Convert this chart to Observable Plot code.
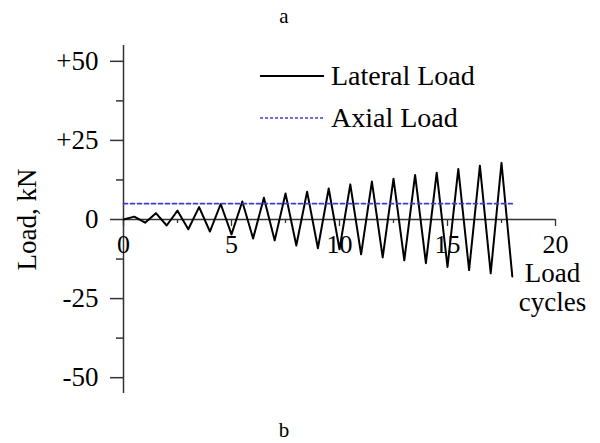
<!DOCTYPE html>
<html>
<head>
<meta charset="utf-8">
<script src="https://cdn.jsdelivr.net/npm/d3@7"></script>
<script src="https://cdn.jsdelivr.net/npm/@observablehq/plot@0.6"></script>
<style>
  html, body { margin: 0; padding: 0; background: #fff; }
  #wrap { position: relative; width: 600px; height: 443px; font-family: "Liberation Serif", "DejaVu Serif", serif; color: #000; }
  #wrap svg { position: absolute; left: 0; top: 0; }
  #wrap svg text { font-family: "Liberation Serif", "DejaVu Serif", serif; }
  .lbl { position: absolute; white-space: nowrap; line-height: 1; }
  .leg { position: absolute; left: 260px; display: flex; align-items: center; gap: 7px; font-size: 28px; }
</style>
</head>
<body>
<div id="wrap"></div>
<script>
// ---- data ----
const lateralX = [0, 0.5, 1, 1.5, 2, 2.5, 3, 3.5, 4, 4.5, 5, 5.5, 6, 6.5, 7, 7.5, 8, 8.5, 9, 9.5,
  10, 10.5, 11, 11.5, 12, 12.5, 13, 13.5, 14, 14.5, 15, 15.5, 16, 16.5, 17, 17.5, 18];
const lateralY = [0, 0.9, -1, 2, -1.9, 2.8, -3.1, 3.9, -3.8, 4.9, -4.7, 5.7, -6, 6.9, -6.6, 8.2, -8.2, 8.8, -9.1, 9.8,
  -9.4, 11.1, -11, 12, -12, 12.9, -12.9, 14.1, -13.8, 14.8, -15, 16, -16, 17, -17, 17.9, -18];
const axialX = [0, 18];
const axialY = [5, 5];
const xTicks = [0, 5, 10, 15, 20];
const xMinorTicks = [2.5, 7.5, 12.5, 17.5];
const yTicks = [50, 25, 0, -25, -50];
const yTickLabels = ["+50", "+25", "0", "-25", "-50"];
const yMinorTicks = [37.5, 12.5, -12.5, -37.5];
const seriesNames = ["Lateral Load", "Axial Load"];
const xLabel = "Load\ncycles";
const yLabel = "Load, kN";

const lateral = lateralX.map((x, i) => ({x, y: lateralY[i]}));
const axial = axialX.map((x, i) => ({x, y: axialY[i]}));

// ---- layout ----
const W = 600, H = 443, mT = 45, mB = 50, mL = 123, mR = 45;
const yDom = [-55, 55];
const zeroPx = mT + (yDom[1] - 0) / (yDom[1] - yDom[0]) * (H - mT - mB);
const axisShift = zeroPx - (H - mB);
const blue = "#3c3cd2";
const axisColor = "#333";
const font = "Liberation Serif";

const plot = Plot.plot({
  width: W, height: H,
  marginTop: mT, marginBottom: mB, marginLeft: mL, marginRight: mR,
  style: {fontFamily: font, background: "white", color: "black"},
  x: {domain: [0, 20]},
  y: {domain: yDom},
  marks: [
    Plot.ruleX([0], {stroke: axisColor, strokeWidth: 1.5}),
    Plot.ruleY([0], {x1: 0, x2: 20, stroke: axisColor, strokeWidth: 1.5}),
    Plot.axisY(yTicks, {anchor: "left", tickSize: 13, tickPadding: 12, fontSize: 27,
      tickFormat: d => yTickLabels[yTicks.indexOf(d)], label: null, stroke: axisColor, strokeWidth: 1.5}),
    Plot.axisY(yMinorTicks, {anchor: "left", tickSize: 7, text: null, label: null, stroke: axisColor, strokeWidth: 1.5}),
    Plot.axisX(xTicks, {anchor: "bottom", dy: axisShift, tickSize: 7, tickPadding: 8, fontSize: 26,
      label: null, stroke: axisColor, strokeWidth: 1.3}),
    Plot.axisX(xMinorTicks, {anchor: "bottom", dy: axisShift, tickSize: 4, text: null, label: null, stroke: axisColor, strokeWidth: 1.3}),
    Plot.line(lateral, {x: "x", y: "y", stroke: "black", strokeWidth: 2}),
    Plot.line(axial, {x: "x", y: "y", stroke: blue, strokeWidth: 1.7, strokeDasharray: "4,3"}),
    Plot.text([xLabel], {x: 20, y: 0, dy: 43, dx: -3, lineAnchor: "top", fontSize: 27, lineHeight: 1.04}),
    Plot.text([yLabel], {frameAnchor: "left", textAnchor: "middle", rotate: -90, dx: -96, fontSize: 27})
  ]
});

const wrap = document.getElementById("wrap");
wrap.appendChild(plot);

function addLabel(text, left, top, size) {
  const d = document.createElement("div");
  d.className = "lbl";
  d.textContent = text;
  d.style.left = left + "px";
  d.style.top = top + "px";
  d.style.fontSize = size + "px";
  d.style.transform = "translateX(-50%)";
  wrap.appendChild(d);
}
addLabel("a", 284, 6, 21);
addLabel("b", 284, 420, 21);

function addLegend(name, top, dash, color) {
  const row = document.createElement("div");
  row.className = "leg";
  row.style.top = top + "px";
  row.style.height = "30px";
  const ns = "http://www.w3.org/2000/svg";
  const s = document.createElementNS(ns, "svg");
  s.setAttribute("width", 64); s.setAttribute("height", 4);
  s.style.position = "static";
  const l = document.createElementNS(ns, "line");
  l.setAttribute("x1", 0); l.setAttribute("x2", 64); l.setAttribute("y1", 2); l.setAttribute("y2", 2);
  l.setAttribute("stroke", color); l.setAttribute("stroke-width", dash ? 1.5 : 2);
  if (dash) l.setAttribute("stroke-dasharray", dash);
  s.appendChild(l);
  const t = document.createElement("span");
  t.textContent = name;
  t.style.lineHeight = "1";
  row.appendChild(s); row.appendChild(t);
  wrap.appendChild(row);
}
addLegend(seriesNames[0], 61, null, "black");
addLegend(seriesNames[1], 103, "3,2", blue);
</script>
</body>
</html>
